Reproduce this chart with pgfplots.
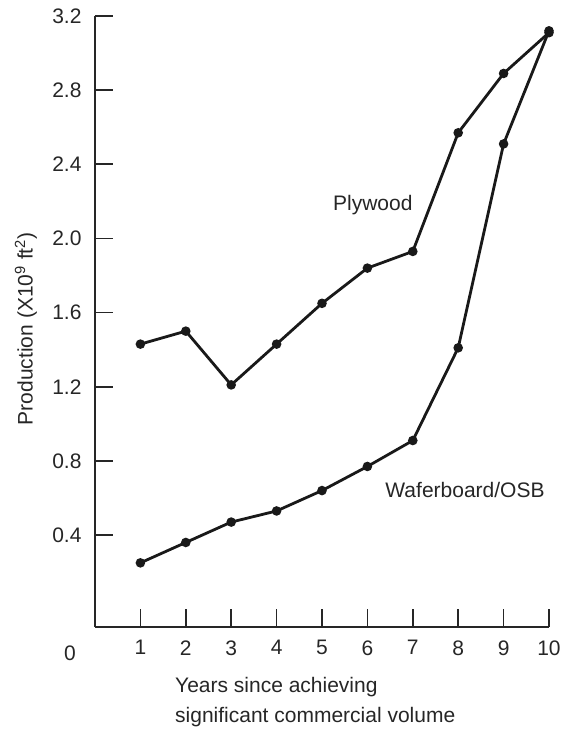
\documentclass[border=0pt]{standalone}
\usepackage{fontspec}
\setmainfont{Liberation Sans}
\usepackage{pgfplots}
\pgfplotsset{compat=1.18}
\newcommand{\lf}{\fontsize{21}{25}\selectfont}
\begin{document}
\begin{tikzpicture}
\path (0,0) rectangle (561pt,729pt);
\begin{axis}[
  at={(95pt,102pt)}, anchor=south west,
  scale only axis, width=454pt, height=611pt,
  xmin=0, xmax=10, ymin=-0.096, ymax=3.2,
  axis lines=left, axis line style={-, line width=1.8pt, black!85},
  clip=false,
  xtick={1,2,3,4,5,6,7,8,9,10},
  ytick={0.4,0.8,1.2,1.6,2.0,2.4,2.8,3.2},
  yticklabels={0.4,0.8,1.2,1.6,2.0,2.4,2.8,3.2},
  tick align=inside, major tick length=18pt,
  tick style={line width=1.6pt, black!85},
  /pgf/number format/assume math mode=true,
  ticklabel style={font=\lf, text=black!85},
  yticklabel style={xshift=-10pt},
  xticklabel style={yshift=-10pt},
]
\addplot[line width=2.8pt, black!90, mark=*, mark size=3.3pt] coordinates {
(1,1.43) (2,1.50) (3,1.21) (4,1.43) (5,1.65) (6,1.84) (7,1.93) (8,2.57) (9,2.89) (10,3.11)};
\addplot[line width=2.8pt, black!90, mark=*, mark size=3.3pt] coordinates {
(1,0.25) (2,0.36) (3,0.47) (4,0.53) (5,0.64) (6,0.77) (7,0.91) (8,1.41) (9,2.51) (10,3.12)};
\node[font=\lf, text=black!85] at (rel axis cs:-0.055,-0.0426) {0};
\node[font=\lf, text=black!85, rotate=90] at (rel axis cs:-0.152,0.488) {Production (X10$^{\mathrm{9}}$ ft$^{\mathrm{2}}$)};
\node[font=\lf, text=black!85, anchor=base west, inner sep=0pt] at (rel axis cs:0.1762,-0.108) {Years since achieving};
\node[font=\lf, text=black!85, anchor=base west, inner sep=0pt] at (rel axis cs:0.1762,-0.157) {significant commercial volume};
\node[font=\lf, text=black!85] at (rel axis cs:0.612,0.691) {Plywood};
\node[font=\lf, text=black!85] at (rel axis cs:0.815,0.224) {Waferboard/OSB};
\end{axis}
\end{tikzpicture}
\end{document}
